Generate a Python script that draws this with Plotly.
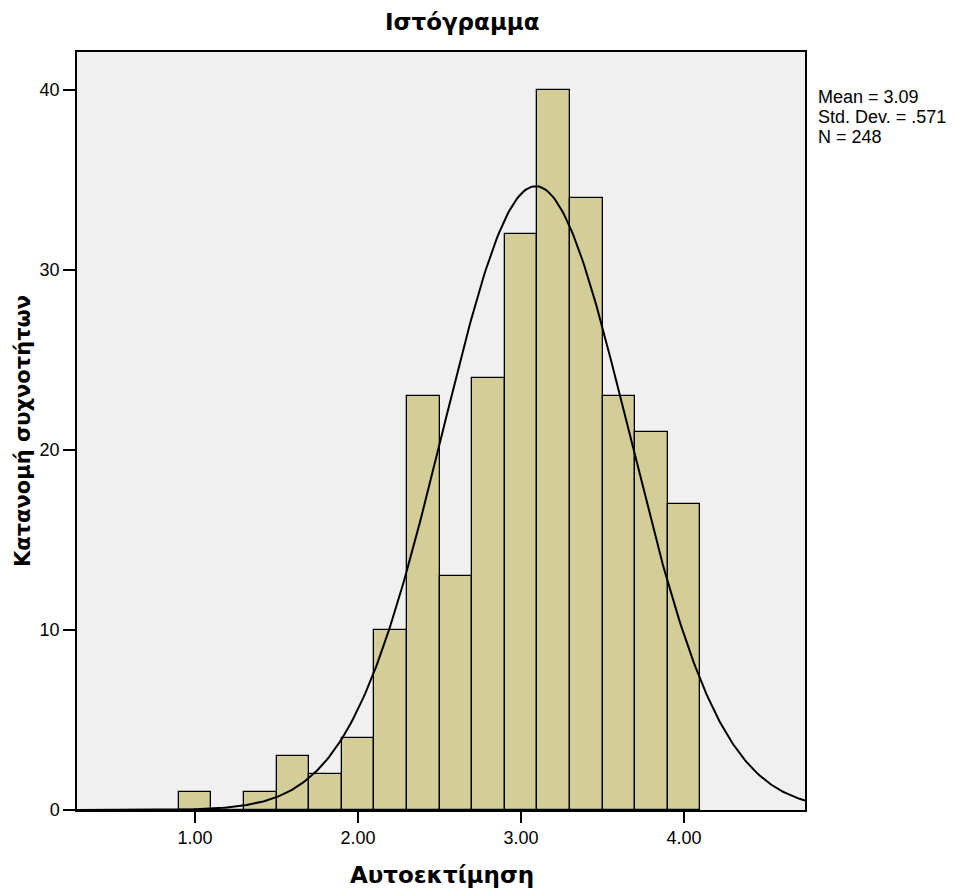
import numpy as np
import plotly.graph_objects as go

# Data
bin_centers = [1.0, 1.2, 1.4, 1.6, 1.8, 2.0, 2.2, 2.4, 2.6, 2.8, 3.0, 3.2, 3.4, 3.6, 3.8, 4.0]
counts = [1, 0, 1, 3, 2, 4, 10, 23, 13, 24, 32, 40, 34, 23, 21, 17]
bin_width = 0.2
mean_val = 3.09
std_val = 0.571
n_val = 248
x_tick_vals = [1.0, 2.0, 3.0, 4.0]
x_tick_text = ["1.00", "2.00", "3.00", "4.00"]
y_tick_vals = [0, 10, 20, 30, 40]

title_text = "Ιστόγραμμα"
x_title = "Αυτοεκτίμηση"
y_title = "Κατανομή συχνοτήτων"
stats_lines = [f"Mean = {mean_val:.2f}", f"Std. Dev. = .{int(round(std_val * 1000))}", f"N = {n_val}"]

x_range = [0.276, 4.742]
y_range = [0, 42.11]

# Normal curve (scaled to counts) from the stated statistics
xc = np.linspace(x_range[0], x_range[1], 400)
yc = n_val * bin_width * np.exp(-0.5 * ((xc - mean_val) / std_val) ** 2) / (std_val * np.sqrt(2 * np.pi))

fig = go.Figure()
fig.add_trace(go.Bar(
    x=bin_centers, y=counts, width=bin_width,
    marker=dict(color="#D3CE98", line=dict(color="black", width=1.3)),
    showlegend=False,
))
fig.add_trace(go.Scatter(
    x=xc, y=yc, mode="lines", line=dict(color="black", width=2),
    showlegend=False, hoverinfo="skip",
))

sans = "Liberation Sans, Arial, sans-serif"
bold = "DejaVu Sans, Verdana, sans-serif"

# page offset (default body margin of the html page)
OFF = 8
# plot area in page pixels
L, R, T, B = 77, 805, 52, 810
W, H = 955 - OFF, 892 - OFF


def px(xp):
    return (xp - L) / (R - L)


def py(yp):
    return (B - yp) / (B - T)


annotations = [
    dict(x=px(462), y=py(22), xanchor="center", yanchor="middle",
         text=f"<b>{title_text}</b>", font=dict(size=23, family=bold)),
    dict(x=px(442), y=py(875), xanchor="center", yanchor="middle",
         text=f"<b>{x_title}</b>", font=dict(size=23, family=bold)),
    dict(x=px(23), y=py(431), xanchor="center", yanchor="middle", textangle=-90,
         text=f"<b>{y_title}</b>", font=dict(size=21, family=bold)),
]
for i, line in enumerate(stats_lines):
    annotations.append(dict(x=px(816), y=py(97 + 20 * i), xanchor="left", yanchor="middle",
                            text=line, font=dict(size=18, family=sans)))
for a in annotations:
    a.update(xref="paper", yref="paper", showarrow=False)

fig.update_layout(
    width=W, height=H,
    margin=dict(l=L - OFF, r=W - (R - OFF), t=T - OFF, b=H - (B - OFF)),
    paper_bgcolor="white",
    plot_bgcolor="#F0F0F0",
    font=dict(family=sans, size=18, color="black"),
    bargap=0,
    xaxis=dict(
        range=x_range, tickvals=x_tick_vals, ticktext=x_tick_text,
        ticks="outside", ticklen=11, tickwidth=2, tickcolor="black",
        showline=True, linecolor="black", linewidth=1.5, mirror=True,
        showgrid=False, zeroline=False, automargin=False,
        tickfont=dict(size=18, family=sans),
    ),
    yaxis=dict(
        range=y_range, tickvals=y_tick_vals,
        ticks="outside", ticklen=12, tickwidth=2, tickcolor="black",
        showline=True, linecolor="black", linewidth=1.5, mirror=True,
        showgrid=False, zeroline=False, automargin=False,
        tickfont=dict(size=18, family=sans),
    ),
    annotations=annotations,
)

fig.write_html("out.html")
